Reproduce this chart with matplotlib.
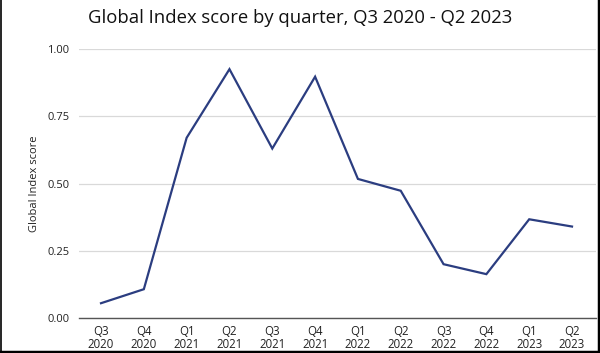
import numpy as np
import matplotlib.pyplot as plt
from matplotlib.lines import Line2D

quarters = ["Q3\n2020", "Q4\n2020", "Q1\n2021", "Q2\n2021", "Q3\n2021", "Q4\n2021",
            "Q1\n2022", "Q2\n2022", "Q3\n2022", "Q4\n2022", "Q1\n2023", "Q2\n2023"]
scores = [0.055, 0.107, 0.67, 0.925, 0.63, 0.897, 0.517, 0.473, 0.20, 0.163, 0.367, 0.34]
yticks = [0.0, 0.25, 0.5, 0.75, 1.0]

plt.rcParams['font.family'] = ['Open Sans', 'DejaVu Sans']

fig = plt.figure(figsize=(6, 3.53), dpi=100)
ax = fig.add_axes([79/600, 1-318/353, (596-79)/600, (318-49)/353])

x = np.arange(len(quarters))
ax.plot(x, scores, color='#2b3d80', lw=1.6, solid_joinstyle='miter')

ax.set_xlim(-0.514, 11.56)
ax.set_ylim(0, 1)
ax.set_xticks(x)
ax.set_xticklabels(quarters, fontsize=8.3, color='#222222', linespacing=1.05)
ax.set_yticks(yticks)
ax.set_yticklabels([f"{v:.2f}" for v in yticks], fontsize=8, color='#222222')
ax.tick_params(axis='x', length=0, pad=5)
ax.tick_params(axis='y', length=0, pad=7)
ax.grid(axis='y', color='#d9d9d9', lw=0.9)
ax.set_axisbelow(True)
for s in ['top', 'right', 'left']:
    ax.spines[s].set_visible(False)
ax.spines['bottom'].set_color('#555555')
ax.spines['bottom'].set_linewidth(1)
ax.spines['bottom'].set_zorder(3)

ax.set_ylabel("Global Index score", fontsize=8, color='#222222', labelpad=5)
fig.text(0.5, 1-18/353, "Global Index score by quarter, Q3 2020 - Q2 2023",
         ha='center', va='center', fontsize=13.3, color='#111111')

# black frame on left, right and bottom edges
fig.add_artist(Line2D([0.001, 0.001], [0, 1], transform=fig.transFigure, color='black', lw=1.2))
fig.add_artist(Line2D([0.9975, 0.9975], [0, 1], transform=fig.transFigure, color='black', lw=2.5))
fig.add_artist(Line2D([0, 1], [0.004, 0.004], transform=fig.transFigure, color='black', lw=2.5))

fig.savefig("out.png", dpi=100)
